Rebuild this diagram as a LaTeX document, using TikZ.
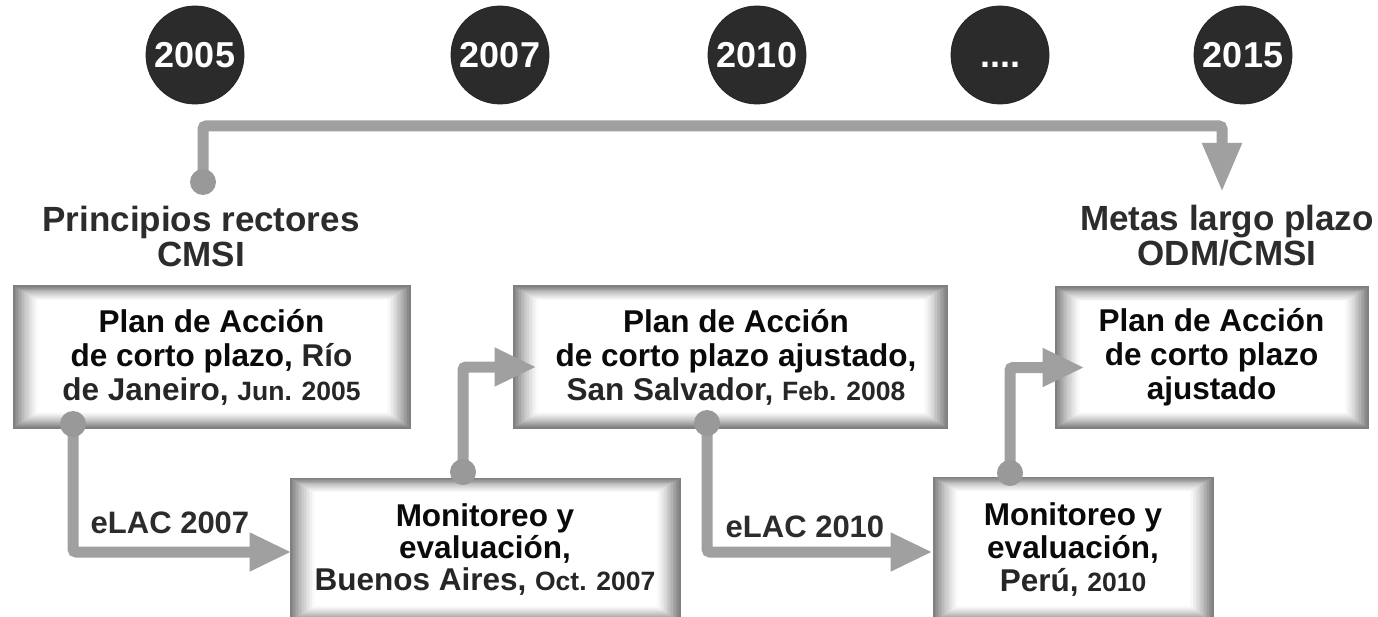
\documentclass[tikz,border=0pt]{standalone}
\usepackage{fontspec}
\setmainfont{Liberation Sans}
\usetikzlibrary{arrows.meta,calc}
\definecolor{argray}{HTML}{A0A0A0}
\definecolor{dotgray}{HTML}{999999}
\definecolor{yearbg}{HTML}{2B2B2B}
\definecolor{txt}{HTML}{0A0A0A}
\definecolor{place}{HTML}{262626}
\definecolor{lbl}{HTML}{2C2C2C}
\newcommand\smalltxt[1]{{\fontsize{26.5}{34}\selectfont #1}}
\newcommand\plc[1]{{\color{place}#1}}
\begin{document}
\begin{tikzpicture}[x=1pt,y=-1pt,
  year/.style={circle,fill=yearbg,draw=black!85,line width=0.8pt,minimum size=98pt,
    inner sep=0pt,text=white,font=\bfseries\fontsize{36}{36}\selectfont},
  bevel/.style={rectangle,draw=black!50,line width=1pt,inner sep=0pt,align=center,
    text=txt,font=\bfseries\fontsize{31.5}{34}\selectfont,
    path picture={\foreach \k in {0,...,16}{
      \pgfmathsetmacro\v{50*(1-\k/16)^1.3}
      \fill[black!\v] ([shift={(1.55*\k,0.9*\k)}]path picture bounding box.north west)
        rectangle ([shift={(-1.45*\k,-1.0*\k)}]path picture bounding box.south east);}}},
  bigl/.style={align=center,inner sep=0pt,text=lbl,font=\bfseries\fontsize{35}{35}\selectfont},
  elac/.style={anchor=base,inner sep=0pt,text=lbl,font=\bfseries\fontsize{31}{31}\selectfont},
  conn/.style={draw=argray,line width=11pt,rounded corners=3pt,
    -{Triangle[width=36pt,length=42pt]}},
  dot/.style={circle,fill=dotgray,minimum size=26pt,inner sep=0pt}
]
\useasboundingbox (0,0) rectangle (1378,617);
\clip (0,0) rectangle (1378,617);
\fill[white] (0,0) rectangle (1378,617);

% year circles
\node[year] (y2005) at (195,55) {2005};
\node[year] (y2007) at (500,55) {2007};
\node[year] (y2010) at (757,55) {2010};
\node[year] (ydots) at (1000,55) {\vphantom{0}....};
\node[year] (y2015) at (1243,55) {2015};

% labels
\node[bigl] (princ) at (201,236) {Principios rectores\\CMSI};
\node[bigl] (metas) at (1227,236) {Metas largo plazo\\ODM/CMSI};

% boxes
\node[bevel,minimum width=397pt,minimum height=142pt] (b1) at (211.5,357)
  {Plan de Acción\\de corto plazo, \plc{Río}\\\plc{de Janeiro,} \smalltxt{\plc{Jun. 2005}}};
\node[bevel,minimum width=390pt,minimum height=144pt,font=\bfseries\fontsize{31.5}{32}\selectfont] (b2) at (485,550)
  {Monitoreo y\\evaluación,\\\plc{Buenos Aires,} \smalltxt{\plc{Oct. 2007}}};
\node[bevel,minimum width=434pt,minimum height=142pt] (b3) at (730,357)
  {\hspace*{12pt}Plan de Acción\\\hspace*{12pt}de corto plazo ajustado,\\\hspace*{12pt}\plc{San Salvador,} \smalltxt{\plc{Feb. 2008}}};
\node[bevel,minimum width=313pt,minimum height=141pt] (b4) at (1211.5,357.5)
  {Plan de Acción\\de corto plazo\\ajustado};
\node[bevel,minimum width=280pt,minimum height=145pt,font=\bfseries\fontsize{31.5}{33}\selectfont] (b5) at (1073,549.5)
  {Monitoreo y\\evaluación,\\\plc{Perú,} \smalltxt{\plc{2010}}};

% connector labels
\node[elac] (e2007) at (170,533) {eLAC 2007};
\node[elac] (e2010) at (805,537) {eLAC 2010};

% dots
\coordinate (d0) at (203,182);
\coordinate (d1) at (73,424);
\coordinate (d2) at (463,472);
\coordinate (d3) at (707,423);
\coordinate (d4) at (1010,473);
\coordinate (tcorner) at (1222,126);
\coordinate (tend) at (1222,192);

% connectors
\draw[conn,-{Triangle[width=37pt,length=49pt]}] (d0) |- (tcorner) -- (tend);
\draw[conn] (d1) |- ([shift={(2,2)}]b2.west);
\draw[conn] (d2) |- ([shift={(24,10)}]b3.west);
\draw[conn] (d3) |- ([shift={(0,2.5)}]b5.west);
\draw[conn] (d4) |- ([shift={(30,10)}]b4.west);

\node[dot] (p0) at (d0) {};
\node[dot] (p1) at (d1) {};
\node[dot] (p2) at (d2) {};
\node[dot] (p3) at (d3) {};
\node[dot] (p4) at (d4) {};
\end{tikzpicture}
\end{document}
